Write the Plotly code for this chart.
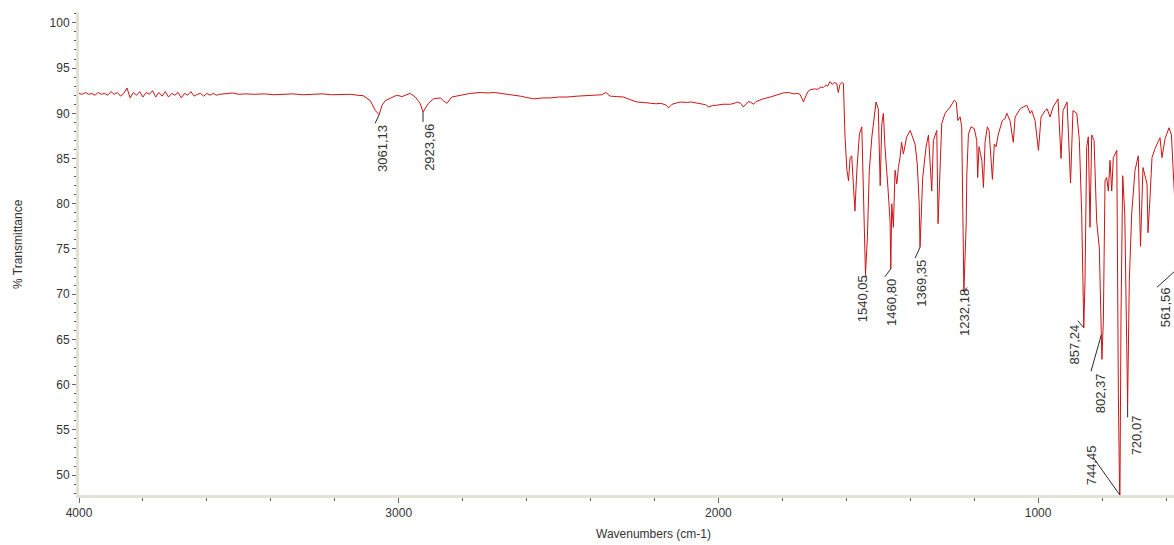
import plotly.graph_objects as go

# ---- spectrum data: wavenumber (cm-1) and % transmittance ----
wavenumber = [
    4000, 3990, 3980, 3970, 3960, 3950, 3940, 3930, 3920, 3910,
    3900, 3890, 3880, 3870, 3860, 3850, 3840, 3830, 3820, 3810,
    3800, 3790, 3780, 3770, 3760, 3750, 3740, 3730, 3720, 3710,
    3700, 3690, 3680, 3670, 3660, 3650, 3640, 3630, 3620, 3610,
    3600, 3590, 3580, 3570, 3560,
    3540, 3520, 3500, 3480, 3450, 3420, 3390, 3360, 3330, 3300,
    3270, 3240, 3210, 3180, 3150, 3130, 3111, 3089, 3073, 3061.13,
    3052, 3042, 3021, 3006, 2990, 2964, 2948, 2933, 2923.96, 2907,
    2891, 2870, 2860, 2849, 2834, 2808, 2776, 2745, 2720, 2700,
    2680, 2651, 2620, 2600, 2578, 2550, 2526, 2500, 2474, 2440,
    2410, 2391, 2365, 2352, 2345, 2339, 2320, 2297, 2275, 2255,
    2235, 2213, 2195, 2180, 2172, 2163, 2156, 2145, 2120, 2100,
    2085, 2067, 2050, 2040, 2031, 2018, 2005, 1985, 1963, 1950,
    1942, 1930, 1922, 1914, 1906, 1898, 1890, 1882, 1875, 1860,
    1838, 1820, 1797, 1780, 1765, 1755, 1745, 1738, 1734, 1728,
    1720, 1713, 1700, 1690, 1680, 1672, 1665, 1658, 1651, 1644,
    1638, 1630, 1627, 1625, 1620, 1614, 1609, 1604, 1598, 1593,
    1588, 1583, 1578, 1573, 1567, 1559, 1551.5, 1546, 1543, 1540.05,
    1534, 1528, 1520, 1507, 1500, 1494, 1489, 1484, 1479, 1473,
    1469, 1463, 1460.80, 1457.8, 1452.7, 1447.5, 1442, 1437, 1432, 1427,
    1421.5, 1411, 1400, 1385, 1378, 1372, 1369.35, 1361, 1350.5, 1343,
    1338, 1332.7, 1327.6, 1317, 1313, 1306.7, 1301.5, 1291, 1275, 1262,
    1256, 1251, 1244, 1239, 1235, 1232.18, 1225, 1223, 1218, 1210,
    1199.5, 1192, 1189, 1185, 1176, 1171, 1166, 1158.8, 1153.5, 1150.4,
    1143, 1137, 1131.6, 1124.4, 1119, 1112, 1103.5, 1098, 1088, 1077.6,
    1072, 1056, 1035.5, 1025, 1020, 1009.6, 999, 990.8, 978, 972,
    962.7, 953, 937.8, 928.4, 922, 909.5, 898.6, 891, 879, 871,
    863.7, 857.24, 853.4, 848, 843, 837.7, 832.4, 825, 816.9, 808.6,
    802.37, 800.5, 796, 790.7, 785.5, 780.4, 775, 769.8, 764.8, 754,
    749, 744.45, 740.7, 735.4, 729, 720.07, 714.8, 707.3, 697, 686.7,
    679.7, 672, 659.4, 656.3, 650, 643.8, 634.4, 618.8, 612.5, 603,
    590.6, 583, 578, 570, 561.56, 550,
]

transmittance = [
    92.2, 92.1, 92.3, 92.1, 92.2, 92.0, 92.3, 92.1, 92.2, 92.0,
    92.4, 92.1, 92.3, 91.9, 92.2, 92.8, 91.7, 92.3, 92.0, 92.4,
    91.8, 92.3, 92.1, 92.5, 91.8, 92.3, 91.9, 92.4, 91.8, 92.2,
    92.0, 92.3, 91.7, 92.2, 92.0, 92.4, 91.9, 92.1, 92.2, 91.9,
    92.2, 92.0, 92.2, 92.0, 92.1,
    92.15, 92.25, 92.1, 92.15, 92.1, 92.15, 92.05, 92.1, 92.15, 92.05,
    92.1, 92.15, 92.05, 92.1, 92.1, 92.0, 91.95, 91.4, 90.3, 89.85,
    90.9, 91.4, 91.8, 92.0, 91.85, 92.2, 91.8, 91.1, 90.15, 91.1,
    91.6, 91.7, 91.4, 91.1, 91.8, 92.0, 92.2, 92.3, 92.25, 92.3,
    92.2, 92.1, 91.9, 91.75, 91.6, 91.7, 91.7, 91.8, 91.8, 91.9,
    91.95, 92.0, 92.05, 92.3, 92.1, 91.9, 91.85, 91.8, 91.5, 91.25,
    91.2, 91.1, 91.05, 91.1, 91.0, 90.9, 90.6, 91.0, 91.25, 91.2,
    91.25, 91.15, 91.0, 90.95, 90.7, 90.85, 90.9, 91.0, 91.0, 91.1,
    91.25, 91.1, 90.7, 91.0, 91.3, 91.2, 91.0, 91.3, 91.4, 91.6,
    91.8, 92.0, 92.25, 92.3, 92.15, 92.2, 92.1, 91.6, 91.25, 91.8,
    92.4, 92.6, 92.7, 92.65, 92.9, 92.85, 93.1, 93.0, 93.5, 93.2,
    93.4, 93.3, 92.6, 92.3, 93.2, 93.4, 93.3, 87.4, 83.7, 82.55,
    85.1, 85.3, 82.2, 79.2, 83.7, 87.7, 88.5, 80.7, 75.1, 72.2,
    76.3, 83.7, 87.4, 91.25, 90.5, 82.0, 88.8, 90.0, 86.3, 83.7,
    81.4, 78.0, 72.8, 80.0, 77.4, 83.7, 82.2, 84.0, 85.1, 86.8,
    85.5, 87.4, 88.1, 86.6, 84.4, 80.0, 75.2, 82.9, 86.3, 87.6,
    84.0, 81.4, 87.0, 88.1, 77.8, 84.4, 88.85, 90.0, 90.7, 91.45,
    91.25, 89.2, 89.6, 88.5, 73.3, 70.3, 77.8, 83.3, 87.7, 88.5,
    88.3, 87.0, 82.9, 86.3, 84.8, 81.8, 86.8, 88.5, 88.1, 86.6,
    82.7, 86.6, 86.3, 87.7, 88.5, 89.2, 89.4, 90.0, 89.2, 86.8,
    89.6, 90.5, 90.9, 90.0, 90.3, 89.2, 85.9, 89.6, 90.3, 90.5,
    89.6, 90.7, 91.6, 85.0, 90.3, 91.25, 82.3, 90.3, 90.0, 87.0,
    78.9, 66.3, 71.4, 86.3, 87.4, 77.4, 87.6, 87.0, 78.1, 75.1,
    65.5, 62.8, 67.0, 82.55, 82.9, 81.4, 84.8, 81.4, 85.1, 85.9,
    58.9, 46.0, 67.8, 83.1, 78.9, 57.8, 71.4, 78.9, 83.7, 85.3,
    75.3, 84.0, 82.2, 76.8, 80.7, 85.1, 86.1, 87.3, 85.1, 87.2,
    88.4, 87.6, 84.0, 78.0, 72.9, 80.0,
]

# ---- picked peaks ----
peak_wavenumbers = [3061.13, 2923.96, 1540.05, 1460.80, 1369.35, 1232.18,
                    857.24, 802.37, 744.45, 720.07, 561.56]
peak_labels = ["3061,13", "2923,96", "1540,05", "1460,80", "1369,35", "1232,18",
               "857,24", "802,37", "744,45", "720,07", "561,56"]

# label placement (pixels, relative to the peak point):
# (label centre dx, label top dy, leader end dx, leader end dy)
label_offsets = [
    (4, 10.6, -4, 8.6),
    (7, 12.4, 0, 10),
    (-3, 1, 1, 3),
    (1.3, 10.4, -6, 8),
    (2, 13, -5, 11),
    (1, -3, 3, -4),
    (-9, -3, -6, -7),
    (-1.3, 38.4, -10.3, 36.4),
    (-28.8, -49.7, -26.8, -37.7),
    (8.4, 10.8, 0, 12.8),
    (-13.3, 19.3, -21.3, 19.3),
]

# ---- axes geometry ----
X_LEFT, X_RIGHT = 4000, 575
Y_MIN, Y_MAX = 47.8, 101.2
FIG_W, FIG_H = 1174, 545
M_L, M_R, M_T, M_B = 79, 0, 12, 50
plot_w = FIG_W - M_L - M_R
plot_h = FIG_H - M_T - M_B
px_per_wn = plot_w / (X_LEFT - X_RIGHT)
px_per_t = plot_h / (Y_MAX - Y_MIN)

FONT = "Liberation Sans, Arial, sans-serif"
TEXT_COLOR = "#333333"
AXIS_COLOR = "#e2e2d4"
TICK_COLOR = "#666666"

fig = go.Figure()
fig.add_trace(go.Scatter(
    x=wavenumber, y=transmittance, mode="lines",
    line=dict(color="#cc1414", width=1),
    hoverinfo="x+y", showlegend=False,
))

lookup = dict(zip(wavenumber, transmittance))
shapes = []
annotations = []
for wn, text, (ldx, ldy, adx, ady) in zip(peak_wavenumbers, peak_labels, label_offsets):
    t_head = max(lookup[wn], Y_MIN)
    # leader line from the peak to its label
    shapes.append(dict(
        type="line", xref="x", yref="y",
        x0=wn, y0=t_head,
        x1=wn - adx / px_per_wn, y1=t_head - ady / px_per_t,
        line=dict(color="#2a2a2a", width=1), layer="above",
    ))
    annotations.append(dict(
        xref="paper", yref="paper",
        x=(X_LEFT - wn) / (X_LEFT - X_RIGHT),
        y=(t_head - Y_MIN) / (Y_MAX - Y_MIN),
        xshift=ldx, yshift=-ldy,
        xanchor="center", yanchor="top",
        text=text, textangle=-90, showarrow=False,
        borderpad=0, borderwidth=0,
        font=dict(family=FONT, size=13, color=TEXT_COLOR),
    ))

# axis titles
annotations.append(dict(
    xref="paper", yref="paper", x=(18 - M_L) / plot_w, y=(FIG_H - M_B - 244) / plot_h,
    text="% Transmittance", textangle=-90, showarrow=False,
    xanchor="center", yanchor="middle",
    font=dict(family=FONT, size=12, color=TEXT_COLOR),
))
annotations.append(dict(
    xref="paper", yref="paper", x=(653 - M_L) / plot_w, y=-(534 - (FIG_H - M_B)) / plot_h,
    text="Wavenumbers (cm-1)", showarrow=False,
    xanchor="center", yanchor="middle",
    font=dict(family=FONT, size=12, color=TEXT_COLOR),
))

fig.update_layout(
    width=FIG_W, height=FIG_H,
    margin=dict(l=M_L, r=M_R, t=M_T, b=M_B),
    paper_bgcolor="white", plot_bgcolor="white",
    shapes=shapes, annotations=annotations,
    xaxis=dict(
        range=[X_LEFT, X_RIGHT],
        tickvals=[4000, 3000, 2000, 1000],
        ticks="outside", ticklen=5, tickcolor=TICK_COLOR, tickwidth=1,
        showline=True, linecolor=AXIS_COLOR, linewidth=3,
        showgrid=False, zeroline=False,
        minor=dict(dtick=200, tick0=0, ticks="outside", ticklen=3,
                   tickcolor=TICK_COLOR, showgrid=False),
        tickfont=dict(family=FONT, size=12, color=TEXT_COLOR),
    ),
    yaxis=dict(
        range=[Y_MIN, Y_MAX],
        tick0=0, dtick=5,
        ticks="outside", ticklen=4, tickcolor=TICK_COLOR, tickwidth=1,
        showline=True, linecolor=AXIS_COLOR, linewidth=3,
        showgrid=False, zeroline=False,
        minor=dict(dtick=1, tick0=0, ticks="outside", ticklen=2,
                   tickcolor="#555555", showgrid=False),
        tickfont=dict(family=FONT, size=12, color=TEXT_COLOR),
    ),
)

fig.write_html("out.html")
